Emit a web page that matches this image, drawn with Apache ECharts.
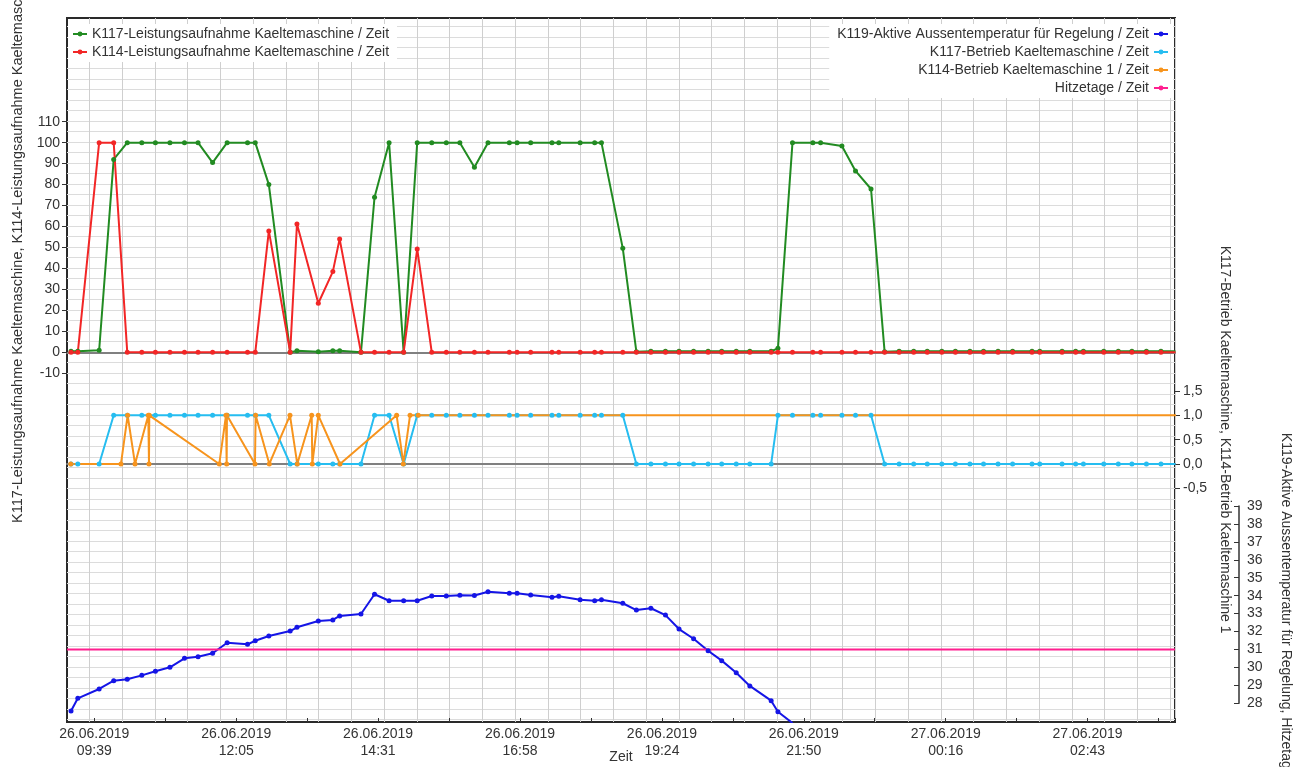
<!DOCTYPE html>
<html><head><meta charset="utf-8">
<script src="https://cdn.jsdelivr.net/npm/echarts@6/dist/echarts.min.js"></script>
<style>html,body{margin:0;padding:0;background:#fff}#c{width:1304px;height:767px}</style>
</head><body><div id="c"></div>
<script>
// time stamps in minutes since 26.06.2019 00:00
const times = [555,562,584,599,613,628,642,657,672,686,701,716,737,745,759,781,788,810,825,832,854,868,883,898,912,927,942,956,971,985,1007,1015,1029,1051,1058,1080,1095,1102,1124,1138,1153,1168,1182,1197,1212,1226,1241,1255,1277,1284,1299,1320,1328,1350,1364,1380,1394,1409,1424,1438,1453,1467,1482,1496,1511,1526,1546,1554,1577,1591,1599,1620,1635,1649,1664,1679,1694];
const k117Leistung = [0.5,0.5,1,92,100,100,100,100,100,100,90.5,100,100,100,80,0,0.7,0.3,0.7,0.7,0,74,100,0,100,100,100,100,88.3,100,100,100,100,100,100,100,100,100,49.6,0.3,0.5,0.5,0.5,0.5,0.5,0.5,0.5,0.5,0.5,1.9,100,100,100,98.4,86.5,77.9,0.3,0.5,0.5,0.5,0.5,0.5,0.5,0.5,0.5,0.5,0.5,0.5,0.5,0.5,0.5,0.5,0.5,0.5,0.5,0.5,0.5];
const k114Leistung = [0,0,100,100,0,0,0,0,0,0,0,0,0,0,57.9,0,61.2,23.4,38.5,54.1,0,0,0,0,49.3,0,0,0,0,0,0,0,0,0,0,0,0,0,0,0,0,0,0,0,0,0,0,0,0,0,0,0,0,0,0,0,0,0,0,0,0,0,0,0,0,0,0,0,0,0,0,0,0,0,0,0,0];
const k117Betrieb = [0,0,0,1,1,1,1,1,1,1,1,1,1,1,1,0,0,0,0,0,0,1,1,0,1,1,1,1,1,1,1,1,1,1,1,1,1,1,1,0,0,0,0,0,0,0,0,0,0,1,1,1,1,1,1,1,0,0,0,0,0,0,0,0,0,0,0,0,0,0,0,0,0,0,0,0,0];
const k114BetriebTimes = [554.7,606.5,613.4,621.0,634.7,635.4,635.7,707.9,714.8,715.5,715.8,744.7,745.4,759.5,780.8,788.3,803.2,803.8,810.0,832.4,890.8,897.7,904.6,913.1,1700];
const k114Betrieb = [0,0,1,0,1,0,1,0,1,0,1,0,1,0,1,0,1,0,1,0,1,0,1,1,1];
const k119Temp = [27.57,28.28,28.80,29.26,29.34,29.56,29.79,30.01,30.51,30.60,30.79,31.38,31.29,31.49,31.75,32.03,32.24,32.59,32.65,32.87,32.98,34.08,33.72,33.72,33.72,33.98,33.98,34.03,34.01,34.22,34.13,34.13,34.04,33.91,33.97,33.78,33.72,33.78,33.58,33.20,33.30,32.92,32.14,31.60,30.93,30.38,29.71,28.97,28.15,27.53,26.9];
const hitzetage = 31;
const xTickLabels = ['26.06.2019\n09:39','26.06.2019\n12:05','26.06.2019\n14:31','26.06.2019\n16:58','26.06.2019\n19:24','26.06.2019\n21:50','27.06.2019\n00:16','27.06.2019\n02:43'];
const seriesNames = ['K117-Leistungsaufnahme Kaeltemaschine / Zeit','K114-Leistungsaufnahme Kaeltemaschine / Zeit','K119-Aktive Aussentemperatur für Regelung / Zeit','K117-Betrieb Kaeltemaschine / Zeit','K114-Betrieb Kaeltemaschine 1 / Zeit','Hitzetage / Zeit'];
const axisNames = ['K117-Leistungsaufnahme Kaeltemaschine, K114-Leistungsaufnahme Kaeltemaschine','K117-Betrieb Kaeltemaschine, K114-Betrieb Kaeltemaschine 1','K119-Aktive Aussentemperatur für Regelung, Hitzetage','Zeit'];

const FONT = '"Liberation Sans", Arial, sans-serif';
const TXT = '#333';
const X0 = 550.85, X1 = 1693.47;
const L = 67, R = 129;
const C = {green:'#228B22', red:'#f22626', blue:'#1515e6', cyan:'#26bdf0', orange:'#f7941d', pink:'#ff1f8f'};

const chart = echarts.init(document.getElementById('c'), null, {renderer:'canvas'});
const hidden = (gi) => ({gridIndex:gi, type:'value', show:false});
const xr = (gi) => ({gridIndex:gi, type:'value', min:X0, max:X1, show:false});

const option = {
  animation:false,
  backgroundColor:'#fff',
  textStyle:{fontFamily:FONT},
  grid:[
    {left:L, right:R, top:18, bottom:45, show:true, borderColor:'#2a2a2a', borderWidth:2, backgroundColor:'transparent', containLabel:false, outerBoundsMode:'none'},
    {left:89.3, right:R, top:18, bottom:45, containLabel:false, outerBoundsMode:'none'},
    {left:L, right:R, top:26.5, bottom:47.5, containLabel:false, outerBoundsMode:'none'},
    {left:L, right:R, top:121.7, bottom:393.7, containLabel:false, outerBoundsMode:'none'},
    {left:L, right:R, top:391, bottom:278.7, containLabel:false, outerBoundsMode:'none'},
    {left:L, right:R, top:506, bottom:63.7, containLabel:false, outerBoundsMode:'none'},
    {left:L, right:R, top:18, bottom:45, containLabel:false, outerBoundsMode:'none'},
    {left:94.3, right:R, top:18, bottom:45, containLabel:false, outerBoundsMode:'none'}
  ],
  xAxis:[
    {gridIndex:0, type:'value', min:X0, max:X1, axisLine:{show:false}, axisTick:{show:false}, axisLabel:{show:false}, splitLine:{show:false},
     name:axisNames[3], nameLocation:'middle', nameGap:28, nameTextStyle:{fontSize:14, color:TXT, fontFamily:FONT}},
    {gridIndex:1, type:'value', min:0, max:33.15, interval:1, axisLine:{show:false}, axisTick:{show:false}, axisLabel:{show:false},
     splitLine:{show:true, lineStyle:{color:'#cfcfcf', width:1}}},
    xr(2),
    {gridIndex:3, type:'value', min:X0, max:X1, axisLine:{show:true, onZero:true, lineStyle:{color:'#808080', width:2}}, axisTick:{show:false}, axisLabel:{show:false}, splitLine:{show:false}},
    {gridIndex:4, type:'value', min:X0, max:X1, axisLine:{show:true, onZero:true, lineStyle:{color:'#808080', width:2}}, axisTick:{show:false}, axisLabel:{show:false}, splitLine:{show:false}},
    xr(5), xr(6),
    {gridIndex:7, type:'value', min:0, max:15.232, interval:1, axisLine:{show:false},
     axisTick:{show:true, inside:true, length:4, lineStyle:{color:'#333', width:1}},
     axisLabel:{show:true, margin:4, fontSize:14, lineHeight:17, color:TXT, fontFamily:FONT, showMinLabel:true, showMaxLabel:true, hideOverlap:false,
       formatter:(v)=>{const i=Math.round(v); if(Math.abs(v-i)>1e-6 || i%2) return ''; return xTickLabels[i/2]||'';}},
     splitLine:{show:false}}
  ],
  yAxis:[
    hidden(0), hidden(1),
    {gridIndex:2, type:'value', min:0, max:66, interval:1, axisLine:{show:false}, axisTick:{show:false}, axisLabel:{show:false},
     splitLine:{show:true, lineStyle:{color:'#dcdcdc', width:1}}},
    {gridIndex:3, type:'value', position:'left', min:-10, max:110, interval:10, axisLine:{show:false},
     axisTick:{show:true, length:5, lineStyle:{color:'#333'}}, axisLabel:{fontSize:14, color:TXT, margin:7, fontFamily:FONT},
     splitLine:{show:false}, name:axisNames[0], nameLocation:'middle', nameGap:42, nameRotate:90,
     nameTextStyle:{fontSize:14.5, color:TXT, fontFamily:FONT}},
    {gridIndex:4, type:'value', position:'right', min:-0.5, max:1.5, interval:0.5, axisLine:{show:false},
     axisTick:{show:true, length:5, lineStyle:{color:'#333'}},
     axisLabel:{fontSize:14, color:TXT, margin:8, fontFamily:FONT, formatter:(v)=>v.toFixed(1).replace('.',',')},
     splitLine:{show:false}, name:axisNames[1], nameLocation:'middle', nameGap:40, nameRotate:-90,
     nameTextStyle:{fontSize:14, color:TXT, fontFamily:FONT, padding:[0,0,0,0]}},
    {gridIndex:5, type:'value', position:'right', offset:64, min:28, max:39, interval:1,
     axisLine:{show:true, lineStyle:{color:'#333', width:1.5}},
     axisTick:{show:true, inside:true, length:5, lineStyle:{color:'#333'}},
     axisLabel:{fontSize:14, color:TXT, margin:8, fontFamily:FONT},
     splitLine:{show:false}, name:axisNames[2], nameLocation:'middle', nameGap:40, nameRotate:-90,
     nameTextStyle:{fontSize:14, color:TXT, fontFamily:FONT}},
    {gridIndex:6, type:'value', min:26.96, max:66.2, show:false},
    hidden(7)
  ],
  legend:[
    {orient:'vertical', left:68, top:24, align:'left', itemWidth:14, itemHeight:6, itemGap:4,
     padding:[3,8,3,4], backgroundColor:'#fff', textStyle:{fontSize:14, color:TXT, fontFamily:FONT},
     data:[seriesNames[0], seriesNames[1]]},
    {orient:'vertical', right:131, top:24, align:'right', itemWidth:14, itemHeight:6, itemGap:4,
     padding:[3,4,3,8], backgroundColor:'#fff', textStyle:{fontSize:14, color:TXT, fontFamily:FONT},
     data:[seriesNames[2], seriesNames[3], seriesNames[4], seriesNames[5]]}
  ],
  series:[
    {name:seriesNames[0], type:'line', xAxisIndex:3, yAxisIndex:3, data:times.map((t,i)=>[t,k117Leistung[i]]),
     symbol:'circle', symbolSize:5, color:C.green, lineStyle:{width:2, color:C.green}, itemStyle:{color:C.green}},
    {name:seriesNames[1], type:'line', xAxisIndex:3, yAxisIndex:3, data:times.map((t,i)=>[t,k114Leistung[i]]),
     symbol:'circle', symbolSize:5, color:C.red, lineStyle:{width:2, color:C.red}, itemStyle:{color:C.red}},
    {name:seriesNames[3], type:'line', xAxisIndex:4, yAxisIndex:4, data:times.map((t,i)=>[t,k117Betrieb[i]]),
     symbol:'circle', symbolSize:5, color:C.cyan, lineStyle:{width:2, color:C.cyan}, itemStyle:{color:C.cyan}},
    {name:seriesNames[4], type:'line', xAxisIndex:4, yAxisIndex:4, data:k114BetriebTimes.map((t,i)=>[t,k114Betrieb[i]]),
     symbol:'circle', symbolSize:5, color:C.orange, lineStyle:{width:2, color:C.orange}, itemStyle:{color:C.orange}},
    {name:seriesNames[2], type:'line', xAxisIndex:6, yAxisIndex:6, data:k119Temp.map((v,i)=>[times[i],v]),
     symbol:'circle', symbolSize:5, color:C.blue, lineStyle:{width:2, color:C.blue}, itemStyle:{color:C.blue}},
    {name:seriesNames[5], type:'line', xAxisIndex:6, yAxisIndex:6, data:[[X0,hitzetage],[X1,hitzetage]],
     symbol:'circle', symbolSize:5, showSymbol:false, color:C.pink, lineStyle:{width:2, color:C.pink}, itemStyle:{color:C.pink}}
  ]
};
chart.setOption(option);
</script></body></html>
